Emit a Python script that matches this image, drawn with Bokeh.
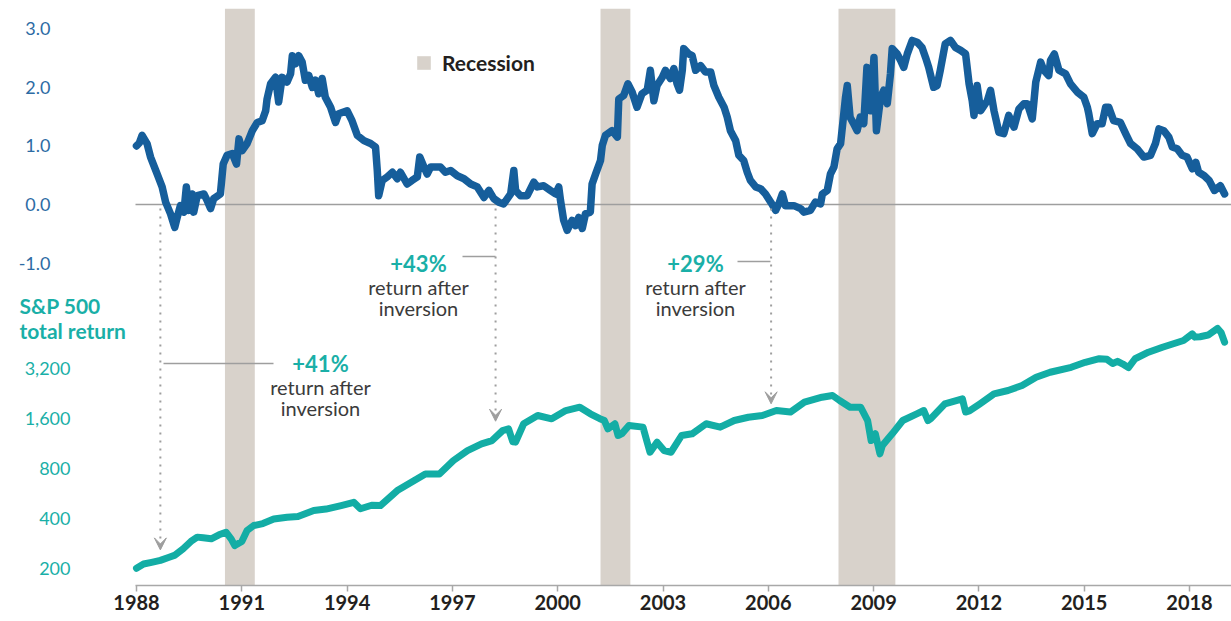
import math
from bokeh.plotting import figure
from bokeh.models import (Range1d, LogScale, LinearAxis, LogAxis, FixedTicker, PrintfTickFormatter,
                          NumeralTickFormatter, Arrow, VeeHead, Legend, LegendItem,
                          Label, ColumnDataSource)
from bokeh.core.properties import value
from bokeh.embed import file_html
from bokeh.resources import INLINE

# ---------------- data ----------------
spread_years = [1988.00, 1988.08, 1988.16, 1988.30, 1988.40, 1988.59, 1988.73, 1988.83, 1988.97, 1989.09,
                1989.16, 1989.25, 1989.35, 1989.42, 1989.49, 1989.59, 1989.63, 1989.73, 1989.92, 1990.01,
                1990.11, 1990.20, 1990.39, 1990.47, 1990.58, 1990.73, 1990.85, 1990.92, 1991.01, 1991.15,
                1991.30, 1991.44, 1991.58, 1991.68, 1991.72, 1991.82, 1991.96, 1992.05, 1992.15, 1992.29,
                1992.39, 1992.44, 1992.53, 1992.62, 1992.72, 1992.81, 1992.91, 1993.01, 1993.10, 1993.19,
                1993.29, 1993.38, 1993.53, 1993.67, 1993.76, 1994.00, 1994.14, 1994.29, 1994.48, 1994.67,
                1994.81, 1994.86, 1994.90, 1995.00, 1995.14, 1995.29, 1995.43, 1995.52, 1995.71, 1995.85,
                1996.00, 1996.07, 1996.19, 1996.28, 1996.38, 1996.66, 1996.80, 1996.95, 1997.14, 1997.33,
                1997.52, 1997.71, 1997.90, 1998.04, 1998.18, 1998.32, 1998.46, 1998.66, 1998.75, 1998.80,
                1998.94, 1999.13, 1999.32, 1999.42, 1999.60, 1999.79, 1999.94, 2000.03, 2000.08, 2000.17,
                2000.27, 2000.41, 2000.51, 2000.60, 2000.70, 2000.79, 2000.93, 2000.98, 2001.08, 2001.22,
                2001.27, 2001.36, 2001.55, 2001.70, 2001.74, 2001.88, 2002.00, 2002.12, 2002.26, 2002.40,
                2002.55, 2002.64, 2002.74, 2002.83, 2002.98, 2003.07, 2003.21, 2003.31, 2003.40, 2003.47,
                2003.55, 2003.59, 2003.73, 2003.83, 2003.93, 2004.07, 2004.21, 2004.36, 2004.45, 2004.59,
                2004.74, 2004.83, 2004.92, 2005.07, 2005.16, 2005.30, 2005.40, 2005.49, 2005.64, 2005.78,
                2005.92, 2006.07, 2006.21, 2006.30, 2006.40, 2006.49, 2006.73, 2006.92, 2007.01, 2007.20,
                2007.34, 2007.49, 2007.54, 2007.68, 2007.77, 2007.87, 2007.96, 2008.06, 2008.13, 2008.20,
                2008.25, 2008.33, 2008.43, 2008.53, 2008.62, 2008.72, 2008.81, 2008.91, 2009.01, 2009.08,
                2009.20, 2009.29, 2009.39, 2009.48, 2009.53, 2009.67, 2009.77, 2009.86, 2009.96, 2010.10,
                2010.24, 2010.38, 2010.48, 2010.57, 2010.71, 2010.81, 2010.90, 2011.04, 2011.19, 2011.33,
                2011.48, 2011.62, 2011.72, 2011.81, 2011.86, 2011.95, 2012.05, 2012.24, 2012.33, 2012.43,
                2012.57, 2012.71, 2012.85, 2013.00, 2013.14, 2013.28, 2013.38, 2013.52, 2013.57, 2013.62,
                2013.76, 2013.85, 2013.99, 2014.04, 2014.15, 2014.28, 2014.47, 2014.61, 2014.80, 2014.99,
                2015.09, 2015.13, 2015.23, 2015.37, 2015.51, 2015.61, 2015.70, 2015.84, 2016.03, 2016.18,
                2016.32, 2016.51, 2016.70, 2016.89, 2017.03, 2017.13, 2017.27, 2017.41, 2017.51, 2017.65,
                2017.79, 2017.93, 2018.08, 2018.18, 2018.26, 2018.42, 2018.56, 2018.71, 2018.88, 2019.00]
spread_values = [1.00, 1.05, 1.18, 1.04, 0.81, 0.52, 0.30, 0.04, -0.16, -0.39,
                 -0.22, -0.02, -0.13, 0.30, -0.10, 0.18, -0.13, 0.15, 0.18, 0.07,
                 -0.07, 0.10, 0.18, 0.69, 0.84, 0.87, 0.69, 1.12, 0.92, 1.04,
                 1.26, 1.40, 1.43, 1.60, 1.80, 2.06, 2.17, 1.75, 2.17, 2.09,
                 2.23, 2.54, 2.40, 2.54, 2.43, 2.12, 2.20, 2.00, 2.12, 1.89,
                 2.15, 1.83, 1.66, 1.40, 1.55, 1.60, 1.43, 1.18, 1.09, 1.04,
                 0.98, 0.58, 0.15, 0.41, 0.47, 0.55, 0.44, 0.55, 0.35, 0.41,
                 0.47, 0.81, 0.64, 0.52, 0.64, 0.64, 0.55, 0.58, 0.49, 0.44,
                 0.35, 0.30, 0.12, 0.24, 0.10, 0.04, 0.01, 0.18, 0.58, 0.24,
                 0.15, 0.15, 0.38, 0.30, 0.32, 0.24, 0.18, 0.30, 0.07, -0.27,
                 -0.44, -0.27, -0.36, -0.22, -0.41, -0.16, -0.13, 0.35, 0.52, 0.75,
                 1.01, 1.18, 1.26, 1.15, 1.80, 1.86, 2.06, 1.92, 1.66, 1.89,
                 1.95, 2.29, 1.77, 2.03, 2.17, 2.29, 2.15, 2.32, 2.06, 1.95,
                 2.29, 2.66, 2.57, 2.54, 2.29, 2.37, 2.26, 2.26, 2.03, 1.83,
                 1.66, 1.49, 1.26, 1.09, 0.84, 0.75, 0.55, 0.41, 0.30, 0.27,
                 0.18, 0.04, -0.10, 0.01, 0.18, -0.02, -0.02, -0.07, -0.13, -0.10,
                 0.04, 0.01, 0.18, 0.24, 0.52, 0.64, 0.95, 1.04, 1.43, 1.83,
                 2.03, 1.49, 1.38, 1.26, 1.49, 1.38, 2.34, 1.60, 2.51, 1.26,
                 1.83, 1.95, 1.72, 2.23, 2.66, 2.57, 2.46, 2.34, 2.57, 2.80,
                 2.77, 2.68, 2.51, 2.34, 2.00, 2.03, 2.29, 2.74, 2.80, 2.68,
                 2.63, 2.57, 2.06, 1.77, 1.52, 2.03, 1.60, 1.77, 1.95, 1.60,
                 1.23, 1.21, 1.52, 1.32, 1.63, 1.72, 1.72, 1.46, 1.77, 2.09,
                 2.43, 2.29, 2.20, 2.46, 2.57, 2.29, 2.23, 2.06, 1.92, 1.83,
                 1.66, 1.55, 1.21, 1.38, 1.38, 1.66, 1.66, 1.43, 1.40, 1.21,
                 1.04, 0.95, 0.81, 0.84, 1.04, 1.29, 1.26, 1.15, 0.98, 0.95,
                 0.84, 0.81, 0.61, 0.72, 0.55, 0.49, 0.41, 0.24, 0.32, 0.18]

sp_years = [1988.00, 1988.20, 1988.43, 1988.68, 1988.93, 1989.10, 1989.33, 1989.55, 1989.73, 1989.90,
            1990.13, 1990.35, 1990.55, 1990.70, 1990.80, 1991.00, 1991.15, 1991.34, 1991.60, 1991.91,
            1992.29, 1992.60, 1993.05, 1993.40, 1993.83, 1994.19, 1994.38, 1994.70, 1994.95, 1995.43,
            1995.83, 1996.23, 1996.63, 1997.03, 1997.43, 1997.83, 1998.13, 1998.43, 1998.60, 1998.72,
            1998.80, 1999.03, 1999.43, 1999.83, 2000.23, 2000.63, 2000.93, 2001.20, 2001.33, 2001.43,
            2001.63, 2001.72, 2001.83, 2002.03, 2002.43, 2002.55, 2002.63, 2002.83, 2003.03, 2003.23,
            2003.53, 2003.83, 2004.23, 2004.63, 2005.03, 2005.43, 2005.83, 2006.23, 2006.63, 2007.03,
            2007.53, 2007.83, 2008.03, 2008.33, 2008.63, 2008.83, 2008.93, 2009.05, 2009.18, 2009.25,
            2009.53, 2009.83, 2010.23, 2010.43, 2010.55, 2010.63, 2011.03, 2011.33, 2011.53, 2011.62,
            2011.73, 2012.03, 2012.43, 2012.83, 2013.23, 2013.63, 2014.03, 2014.63, 2015.03, 2015.43,
            2015.65, 2015.81, 2015.95, 2016.10, 2016.26, 2016.45, 2016.83, 2017.23, 2017.83, 2018.08,
            2018.15, 2018.30, 2018.53, 2018.80, 2018.90, 2019.00]
sp_values = [200, 212, 217, 223, 233, 240, 262, 290, 308, 305,
             301, 318, 330, 300, 274, 290, 338, 362, 372, 396,
             406, 410, 446, 455, 478, 500, 457, 480, 478, 589,
             661, 742, 742, 894, 1027, 1128, 1180, 1355, 1389, 1160,
             1154, 1490, 1671, 1597, 1791, 1876, 1711, 1600, 1559, 1389,
             1490, 1266, 1300, 1455, 1422, 1150, 1003, 1154, 1027, 1003,
             1266, 1296, 1490, 1422, 1559, 1632, 1671, 1791, 1754, 2011,
             2155, 2207, 2059, 1876, 1876, 1559, 1180, 1296, 981, 1100,
             1296, 1559, 1711, 1791, 1559, 1600, 1967, 2050, 2108, 1754,
             1780, 1967, 2260, 2367, 2537, 2845, 3050, 3268, 3503, 3685,
             3650, 3444, 3550, 3420, 3252, 3680, 4030, 4320, 4744, 5200,
             4970, 5000, 5118, 5606, 5300, 4633]

recession_start = [1990.52, 2001.22, 2008.00]
recession_end = [1991.37, 2002.07, 2009.62]

year_ticks = [1988, 1991, 1994, 1997, 2000, 2003, 2006, 2009, 2012, 2015, 2018]
spread_ticks = [-1, 0, 1, 2, 3]
sp_ticks = [200, 400, 800, 1600, 3200]

inversion_years = [1988.68, 1998.23, 2006.08]      # dotted arrows start at the zero line
arrow_sp_levels = [258, 1544, 1967]                # S&P level where each arrow ends
return_labels = ["+41%", "+43%", "+29%"]

# ---------------- layout constants (page pixels) ----------------
W, H = 1231, 621
BORDER_T, BORDER_B = 8, 36
FRAME_T, FRAME_B = BORDER_T, H - BORDER_B
TICK1988_PX, PX_PER_YEAR = 136.0, 35.1
ZERO_PAGE, PX_PER_UNIT = 204.0, 58.6           # spread scale
SP200_PAGE, PX_PER_DOUBLING = 567.7, 49.85     # log scale

def page_to_year(px):
    return 1988 + (px - TICK1988_PX) / PX_PER_YEAR

def page_to_spread(py):
    return (ZERO_PAGE - py) / PX_PER_UNIT

X0, X1 = page_to_year(0), page_to_year(W)
AXIS_START = page_to_year(135)
spread_lo, spread_hi = page_to_spread(FRAME_B), page_to_spread(FRAME_T)
sp_lo = 200 * 2 ** ((SP200_PAGE - FRAME_B) / PX_PER_DOUBLING)
sp_hi = 200 * 2 ** ((SP200_PAGE - FRAME_T) / PX_PER_DOUBLING)

def sp_to_primary(s):
    f = (math.log(s) - math.log(sp_lo)) / (math.log(sp_hi) - math.log(sp_lo))
    return spread_lo + f * (spread_hi - spread_lo)

BLUE = "#165e9b"
BLUE_LBL = "#2d6ba4"
TEAL = "#13ada5"
TEAL_LBL = "#1aafa7"
BAND = "#d8d2cb"
GRAY = "#9e9e9e"
DARK = "#231f20"
TXT = "#3b3b3b"
FONT = "Lato"

p = figure(width=W, height=H, x_range=Range1d(X0, X1), y_range=Range1d(spread_lo, spread_hi),
           output_backend="svg", toolbar_location=None, y_axis_location=None,
           min_border_left=0, min_border_right=0, min_border_top=BORDER_T, min_border_bottom=BORDER_B,
           outline_line_color=None, background_fill_color="white", border_fill_color="white")
p.extra_y_ranges = {"sp": Range1d(sp_lo, sp_hi)}
p.extra_y_scales = {"sp": LogScale()}
p.grid.visible = False

# recession bands
band = p.quad(left=recession_start, right=recession_end, bottom=spread_lo, top=spread_hi,
              fill_color=BAND, line_color=None)

# zero line
p.segment(x0=[AXIS_START], y0=[0], x1=[X1], y1=[0], line_color=GRAY, line_width=1.5)

# series
p.line(spread_years, spread_values, line_color=BLUE, line_width=7.5, line_join="round", line_cap="round")
p.line(sp_years, sp_values, y_range_name="sp", line_color=TEAL, line_width=7, line_join="round",
       line_cap="round")

# x axis
xa = p.xaxis[0]
xa.bounds = (AXIS_START, X1)
xa.ticker = FixedTicker(ticks=year_ticks)
xa.formatter = PrintfTickFormatter(format="%d")
xa.axis_line_color = "#a8a8a8"
xa.axis_line_width = 1.5
xa.major_tick_line_color = "#a8a8a8"
xa.major_tick_line_width = 1.5
xa.major_tick_out = 6
xa.major_tick_in = 0
xa.minor_tick_line_color = None
xa.major_label_text_font = FONT
xa.major_label_text_font_size = "20px"
xa.major_label_text_font_style = "bold"
xa.major_label_text_color = DARK
xa.major_label_standoff = 3

def style_y(ax, color):
    ax.axis_line_color = None
    ax.major_tick_line_color = None
    ax.minor_tick_line_color = None
    ax.major_tick_out = 0
    ax.major_tick_in = 0
    ax.major_label_standoff = 0
    ax.major_label_text_font = FONT
    ax.major_label_text_font_size = "18px"
    ax.major_label_text_color = color

# spread axis, labels end at page x = 50
spread_axis = LinearAxis(ticker=FixedTicker(ticks=spread_ticks), formatter=PrintfTickFormatter(format="%.1f"),
                         fixed_location=page_to_year(50))
style_y(spread_axis, BLUE_LBL)
p.add_layout(spread_axis, "left")

# S&P axis (log), labels end at page x = 70
sp_axis = LogAxis(y_range_name="sp", ticker=FixedTicker(ticks=sp_ticks),
                  formatter=NumeralTickFormatter(format="0,0"), fixed_location=page_to_year(70))
style_y(sp_axis, TEAL_LBL)
p.add_layout(sp_axis, "left")

# S&P title
for txt, py in [("S&P 500", 305), ("total return", 330)]:
    p.add_layout(Label(x=page_to_year(19), y=page_to_spread(py), text=txt, text_align="left",
                       text_baseline="middle", text_font=FONT, text_font_size="21px",
                       text_font_style="bold", text_color=TEAL_LBL))

# dotted arrows from inversion to S&P
arrow_src = ColumnDataSource(dict(
    x0=inversion_years, y0=[-0.07] * len(inversion_years),
    x1=inversion_years, y1=[sp_to_primary(s) for s in arrow_sp_levels]))
p.add_layout(Arrow(source=arrow_src, x_start="x0", y_start="y0", x_end="x1", y_end="y1",
                   line_color=GRAY, line_width=2, line_dash="2 6",
                   end=VeeHead(size=12, fill_color=GRAY, line_color=GRAY, line_width=1)))

# leader lines and return labels
leader_x0 = [page_to_year(163), page_to_year(462), page_to_year(737)]
leader_x1 = [page_to_year(273), page_to_year(495), page_to_year(770)]
leader_y = [page_to_spread(363), page_to_spread(256), page_to_spread(261)]
p.segment(x0=leader_x0, y0=leader_y, x1=leader_x1, y1=leader_y, line_color=GRAY, line_width=1.5)

label_x = [page_to_year(320), page_to_year(418), page_to_year(695)]
label_y0 = [page_to_spread(363), page_to_spread(263), page_to_spread(263)]
label_y1 = [page_to_spread(386), page_to_spread(286), page_to_spread(286)]
label_y2 = [page_to_spread(407), page_to_spread(307), page_to_spread(307)]
p.text(x=label_x, y=label_y0, text=return_labels, text_align="center", text_baseline="middle",
       text_font=value(FONT), text_font_size="22px", text_font_style="bold", text_color=TEAL_LBL)
p.text(x=label_x, y=label_y1, text=["return after"] * 3, text_align="center", text_baseline="middle",
       text_font=value(FONT), text_font_size="20px", text_color=TXT)
p.text(x=label_x, y=label_y2, text=["inversion"] * 3, text_align="center", text_baseline="middle",
       text_font=value(FONT), text_font_size="20px", text_color=TXT)

# legend
legend = Legend(items=[LegendItem(label="Recession", renderers=[band])],
                location=(415, FRAME_B - 75),
                glyph_width=17, glyph_height=17, label_standoff=10, padding=0, margin=0, spacing=0,
                border_line_color=None, background_fill_alpha=0,
                label_text_font=FONT, label_text_font_size="21px", label_text_font_style="bold",
                label_text_color=DARK)
p.add_layout(legend)

open("out.html", "w").write(file_html(p, INLINE))
